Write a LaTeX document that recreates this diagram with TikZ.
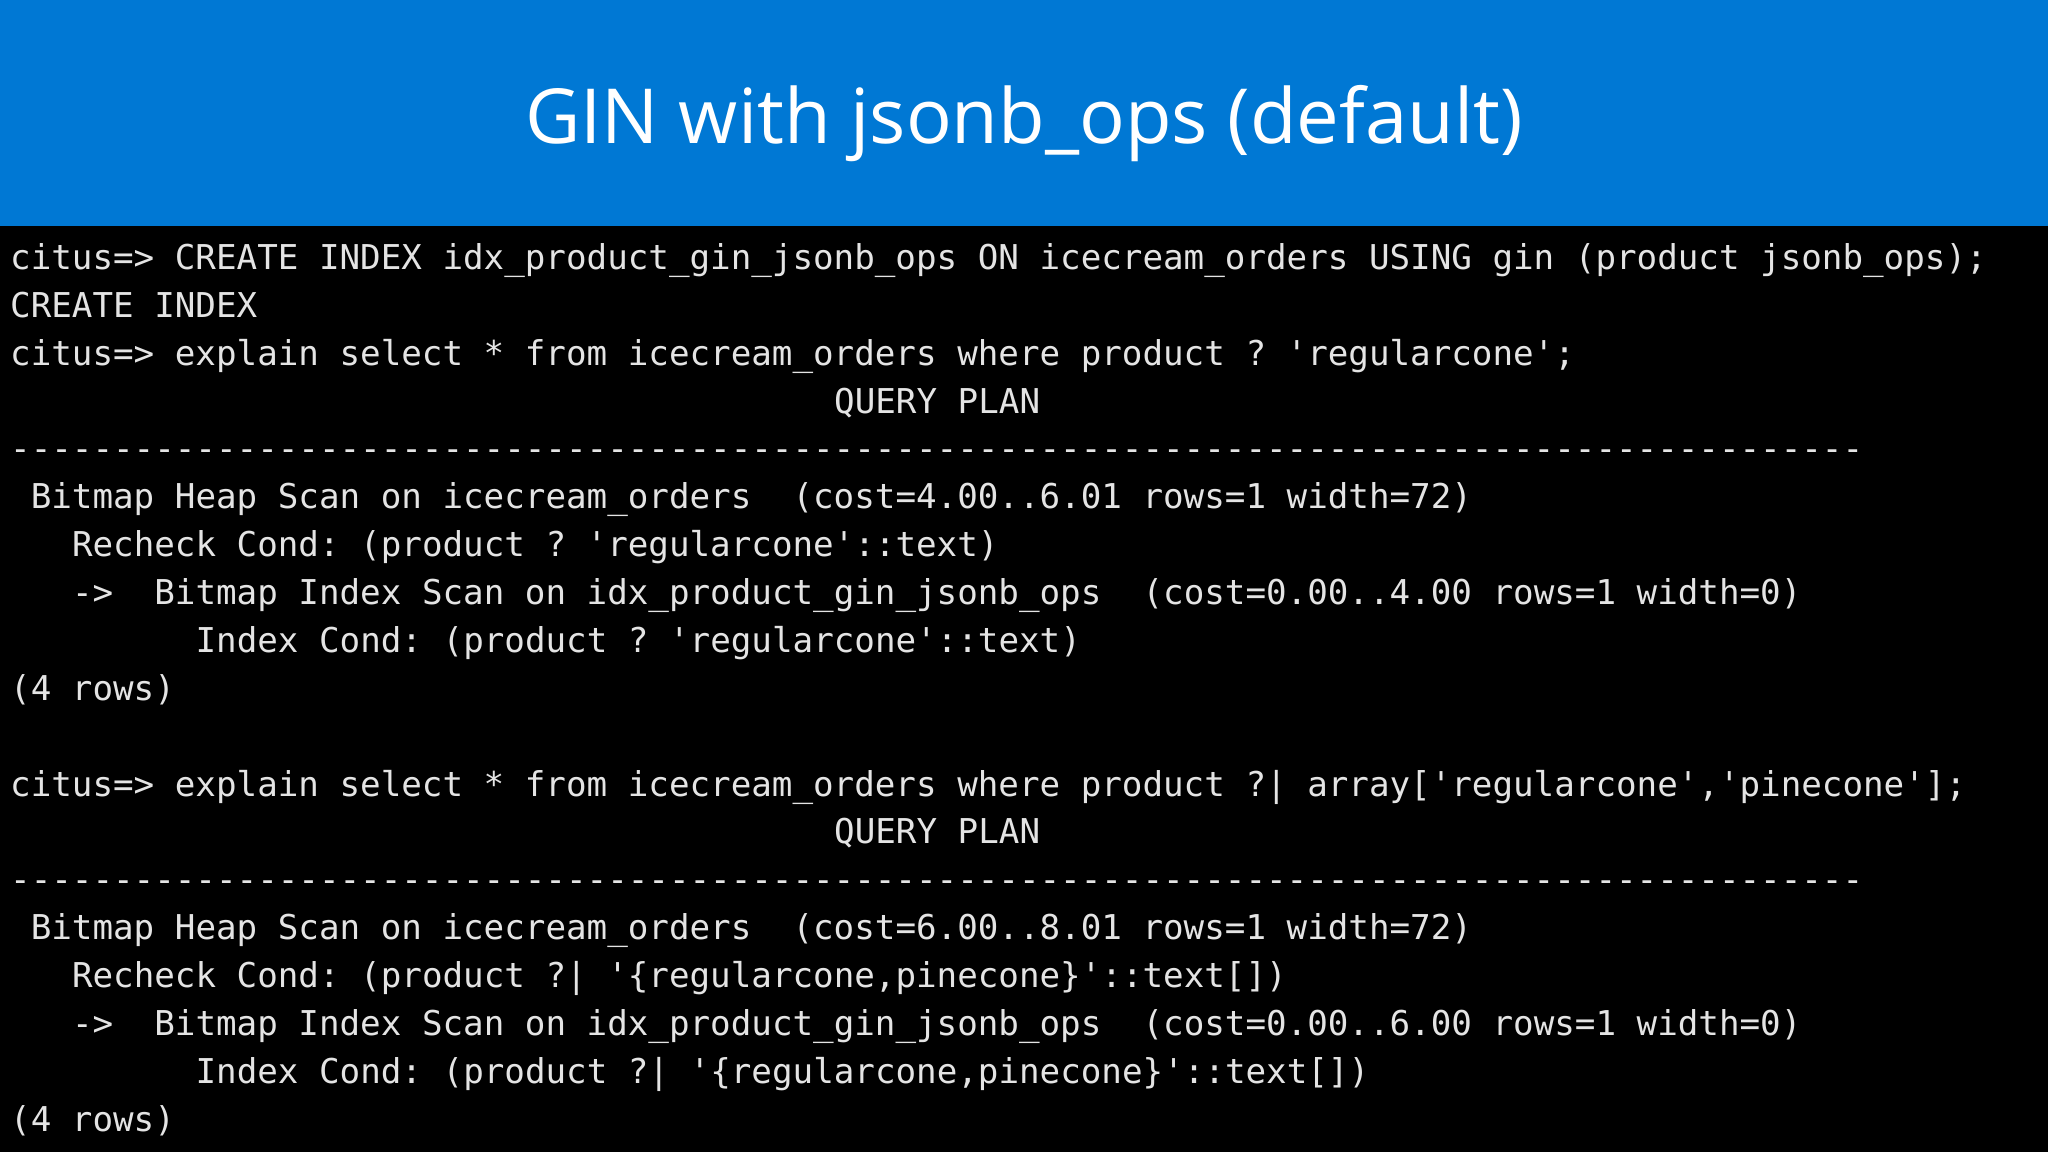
\documentclass[tikz,border=0pt]{standalone}
\usepackage{fontspec}
\setmainfont{Open Sans}
\newfontfamily\termfont{DejaVu Sans Mono}
\definecolor{hdr}{HTML}{0078D4}
\definecolor{termtxt}{HTML}{E4E4E4}
\newcommand\tline[3]{\node[term] (l#1) at (10+#2*20.6, -267-#1*47.87) {\spaceskip=0.6021em plus 0pt minus 0pt\relax\xspaceskip=\spaceskip #3};}
\begin{document}
\begin{tikzpicture}[x=1pt,y=1pt,
  term/.style={anchor=west,inner sep=0pt,text height=0.72em,text depth=0.22em,
    text=termtxt,font=\termfont\fontsize{34.2}{40}\selectfont}]
\useasboundingbox (0,0) rectangle (2048,-1152);
\fill[black] (0,0) rectangle (2048,-1152);
\fill[hdr] (0,0) rectangle (2048,-226);
\node[text=white,font=\fontsize{76}{90}\selectfont] (title) at (1024,-124) {GIN with jsonb\_ops (default)};
\tline{0}{0}{citus=> CREATE INDEX idx\_product\_gin\_jsonb\_ops ON icecream\_orders USING gin (product jsonb\_ops);}
\tline{1}{0}{CREATE INDEX}
\tline{2}{0}{citus=> explain select * from icecream\_orders where product ? 'regularcone';}
\tline{3}{40}{QUERY PLAN}
\tline{4}{0}{------------------------------------------------------------------------------------------}
\tline{5}{1}{Bitmap Heap Scan on icecream\_orders\ \ (cost=4.00..6.01 rows=1 width=72)}
\tline{6}{3}{Recheck Cond: (product ? 'regularcone'::text)}
\tline{7}{3}{->\ \ Bitmap Index Scan on idx\_product\_gin\_jsonb\_ops\ \ (cost=0.00..4.00 rows=1 width=0)}
\tline{8}{9}{Index Cond: (product ? 'regularcone'::text)}
\tline{9}{0}{(4 rows)}
\tline{11}{0}{citus=> explain select * from icecream\_orders where product ?| array['regularcone','pinecone'];}
\tline{12}{40}{QUERY PLAN}
\tline{13}{0}{------------------------------------------------------------------------------------------}
\tline{14}{1}{Bitmap Heap Scan on icecream\_orders\ \ (cost=6.00..8.01 rows=1 width=72)}
\tline{15}{3}{Recheck Cond: (product ?| '\{regularcone,pinecone\}'::text[])}
\tline{16}{3}{->\ \ Bitmap Index Scan on idx\_product\_gin\_jsonb\_ops\ \ (cost=0.00..6.00 rows=1 width=0)}
\tline{17}{9}{Index Cond: (product ?| '\{regularcone,pinecone\}'::text[])}
\tline{18}{0}{(4 rows)}
\end{tikzpicture}
\end{document}
